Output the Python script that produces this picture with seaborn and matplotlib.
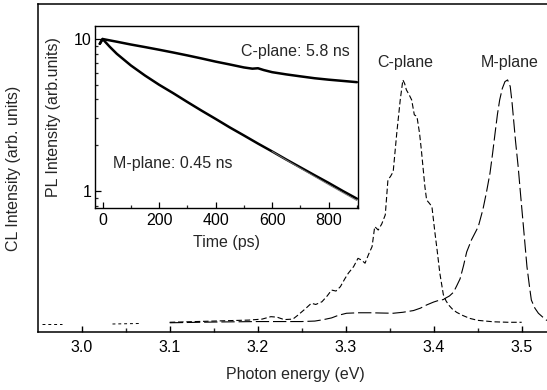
import numpy as np
import pandas as pd
import matplotlib
matplotlib.use("Agg")
import matplotlib.pyplot as plt
import seaborn as sns
from matplotlib.ticker import MultipleLocator, LogLocator, FixedLocator, NullFormatter

# ---------------- data ----------------
# Main panel: CL spectra (normalised)
c_energy = [3.100, 3.130, 3.160, 3.190, 3.205, 3.215, 3.222, 3.230, 3.240, 3.246,
            3.255, 3.261, 3.266, 3.273, 3.279, 3.284, 3.289, 3.294, 3.299, 3.303,
            3.309, 3.314, 3.318, 3.322, 3.326, 3.330, 3.333, 3.337, 3.341, 3.345,
            3.348, 3.351, 3.354, 3.358, 3.362, 3.365, 3.367, 3.369, 3.372, 3.375,
            3.378, 3.381, 3.384, 3.386, 3.390, 3.392, 3.395, 3.398, 3.4015, 3.404,
            3.407, 3.411, 3.414, 3.417, 3.421, 3.426, 3.433, 3.441, 3.450, 3.468,
            3.485, 3.500]
c_int = [0.007, 0.010, 0.013, 0.016, 0.020, 0.030, 0.028, 0.018, 0.020, 0.037,
         0.065, 0.085, 0.080, 0.091, 0.115, 0.139, 0.135, 0.153, 0.185, 0.208,
         0.235, 0.269, 0.262, 0.249, 0.285, 0.317, 0.399, 0.385, 0.410, 0.447,
         0.590, 0.605, 0.624, 0.780, 0.918, 1.000, 0.985, 0.959, 0.940, 0.918,
         0.857, 0.850, 0.780, 0.713, 0.563, 0.508, 0.495, 0.481, 0.372, 0.300,
         0.208, 0.120, 0.095, 0.078, 0.062, 0.048, 0.035, 0.023, 0.015, 0.009,
         0.007, 0.007]

m_energy = [3.100, 3.150, 3.200, 3.230, 3.250, 3.265, 3.275, 3.284, 3.292, 3.301,
            3.315, 3.328, 3.340, 3.354, 3.365, 3.377, 3.385, 3.392, 3.400, 3.406,
            3.411, 3.413, 3.418, 3.4225, 3.426, 3.430, 3.434, 3.4375, 3.443, 3.4507,
            3.456, 3.460, 3.464, 3.467, 3.4697, 3.4725, 3.475, 3.478, 3.481, 3.484,
            3.487, 3.489, 3.4905, 3.493, 3.496, 3.499, 3.502, 3.506, 3.509, 3.511,
            3.515, 3.519, 3.524, 3.528, 3.535]
m_int = [0.005, 0.008, 0.010, 0.010, 0.010, 0.012, 0.018, 0.025, 0.036, 0.044,
         0.046, 0.046, 0.045, 0.044, 0.048, 0.055, 0.065, 0.078, 0.090, 0.097,
         0.100, 0.105, 0.115, 0.130, 0.155, 0.185, 0.240, 0.295, 0.345, 0.399,
         0.470, 0.540, 0.618, 0.700, 0.780, 0.860, 0.918, 0.965, 0.993, 1.000,
         0.973, 0.910, 0.850, 0.750, 0.645, 0.520, 0.399, 0.235, 0.150, 0.098,
         0.065, 0.044, 0.028, 0.016, 0.008]

# low-energy fragments of the spectrum baseline
frag1_energy = [2.955, 2.978]
frag1_int = [0.0, 0.0]
frag2_energy = [3.035, 3.065]
frag2_int = [0.0, 0.002]

# Inset: PL decay
c_time = [-10, 0, 50, 100, 150, 200, 250, 300, 350, 400, 450, 500, 530, 550, 570,
          600, 650, 700, 750, 800, 850, 900]
c_pl = [9.3, 10.0, 9.6, 9.2, 8.85, 8.5, 8.15, 7.8, 7.45, 7.1, 6.8, 6.5, 6.38, 6.42, 6.25,
        6.05, 5.85, 5.68, 5.52, 5.4, 5.3, 5.2]

m_time = [-10, 0, 25, 50, 100, 150, 200, 250, 300, 350, 400, 450, 500, 550, 600,
          650, 700, 750, 800, 850, 900]
m_pl = [9.3, 10.0, 8.9, 8.0, 6.7, 5.75, 5.0, 4.4, 3.85, 3.38, 2.98, 2.62, 2.32, 2.05, 1.82,
        1.61, 1.43, 1.27, 1.13, 1.0, 0.89]
m_fit_time = [600, 650, 700, 750, 800, 850, 900]
m_fit_pl = [1.82, 1.60, 1.41, 1.245, 1.10, 0.975, 0.865]

x_ticks = [3.0, 3.1, 3.2, 3.3, 3.4, 3.5]
inset_x_ticks = [0, 200, 400, 600, 800]

# ---------------- style ----------------
sns.set_theme(style="white")
plt.rcParams["font.family"] = ["Liberation Sans", "DejaVu Sans"]
plt.rcParams["axes.edgecolor"] = "black"

fig = plt.figure(figsize=(5.47, 3.90), dpi=100)
W, H = 547, 390

def px_axes(x0, y0, x1, y1):
    return [x0 / W, (H - y1) / H, (x1 - x0) / W, (y1 - y0) / H]

ax = fig.add_axes(px_axes(38.3, 4, 553, 332))
ins = fig.add_axes(px_axes(94.7, 26, 358.3, 207.7))

# ---------------- main panel ----------------
dfc = pd.DataFrame({"E": c_energy, "I": c_int})
dfm = pd.DataFrame({"E": m_energy, "I": m_int})
sns.lineplot(data=dfc, x="E", y="I", ax=ax, color="black", lw=0.8,
             linestyle=(0, (5, 2.5)), estimator=None, sort=False)
sns.lineplot(data=dfm, x="E", y="I", ax=ax, color="black", lw=0.8,
             linestyle=(0, (12, 3.5)), estimator=None, sort=False)
for fe, fi in [(frag1_energy, frag1_int), (frag2_energy, frag2_int)]:
    sns.lineplot(x=fe, y=fi, ax=ax, color="black", lw=0.7,
                 linestyle=(0, (3, 3)), estimator=None, sort=False)

ax.set_xlim(2.9507, 3.5356)
ax.set_ylim(-0.0328, 1.311)
ax.set_xticks(x_ticks)
ax.set_xticklabels([f"{v:.1f}" for v in x_ticks])
ax.xaxis.set_minor_locator(MultipleLocator(0.05))
ax.set_yticks([])
ax.tick_params(axis="x", which="major", direction="in", length=4.5, width=1.0,
               pad=6, labelsize=11.5, colors="black", bottom=True)
ax.tick_params(axis="x", which="minor", direction="in", length=3, width=1.0, bottom=True)
for s in ["left", "bottom", "top", "right"]:
    ax.spines[s].set_linewidth(1.1)
    ax.spines[s].set_color("black")
ax.set_xlabel("Photon energy (eV)", fontsize=11.5)
ax.set_ylabel("CL Intensity (arb. units)", fontsize=11.5)
ax.xaxis.set_label_coords(0.5, -0.108)
ax.yaxis.set_label_coords(-0.034, 0.5)
ax.text(3.368, 1.07, "C-plane", ha="center", va="center", fontsize=11.5)
ax.text(3.4867, 1.07, "M-plane", ha="center", va="center", fontsize=11.5)

# ---------------- inset ----------------
sns.lineplot(x=c_time, y=c_pl, ax=ins, color="black", lw=1.8, estimator=None, sort=False)
sns.lineplot(x=m_time, y=m_pl, ax=ins, color="black", lw=1.8, estimator=None, sort=False)
sns.lineplot(x=m_fit_time, y=m_fit_pl, ax=ins, color="0.45", lw=0.7, estimator=None, sort=False)
ins.set_yscale("log")
ins.set_xlim(-28, 905)
ins.set_ylim(0.776, 12.18)
ins.set_xticks(inset_x_ticks)
ins.set_xticklabels([str(v) for v in inset_x_ticks])
ins.xaxis.set_minor_locator(MultipleLocator(100))
ins.yaxis.set_major_locator(FixedLocator([1, 10]))
ins.yaxis.set_minor_locator(LogLocator(base=10, subs=np.arange(2, 10)))
ins.yaxis.set_minor_formatter(NullFormatter())
ins.set_yticklabels(["1", "10"])
ins.tick_params(axis="both", which="major", direction="in", length=4, width=0.9,
                labelsize=11.5, colors="black", left=True, bottom=True)
ins.tick_params(axis="x", which="major", pad=3.5)
ins.tick_params(axis="y", which="major", pad=2.5)
ins.tick_params(axis="both", which="minor", direction="in", length=2.2, width=0.9,
                left=True, bottom=True)
for s in ["left", "bottom", "top", "right"]:
    ins.spines[s].set_linewidth(1.0)
    ins.spines[s].set_color("black")
ins.set_xlabel("Time (ps)", fontsize=11.5)
ins.set_ylabel("PL Intensity (arb.units)", fontsize=11.5)
ins.xaxis.set_label_coords(0.5, -0.15)
ins.yaxis.set_label_coords(-0.128, 0.5)
ins.text(875, 8.24, "C-plane: 5.8 ns", ha="right", va="center", fontsize=11.5)
ins.text(37.5, 1.52, "M-plane: 0.45 ns", ha="left", va="center", fontsize=11.5)

fig.savefig("out.png", dpi=100)
